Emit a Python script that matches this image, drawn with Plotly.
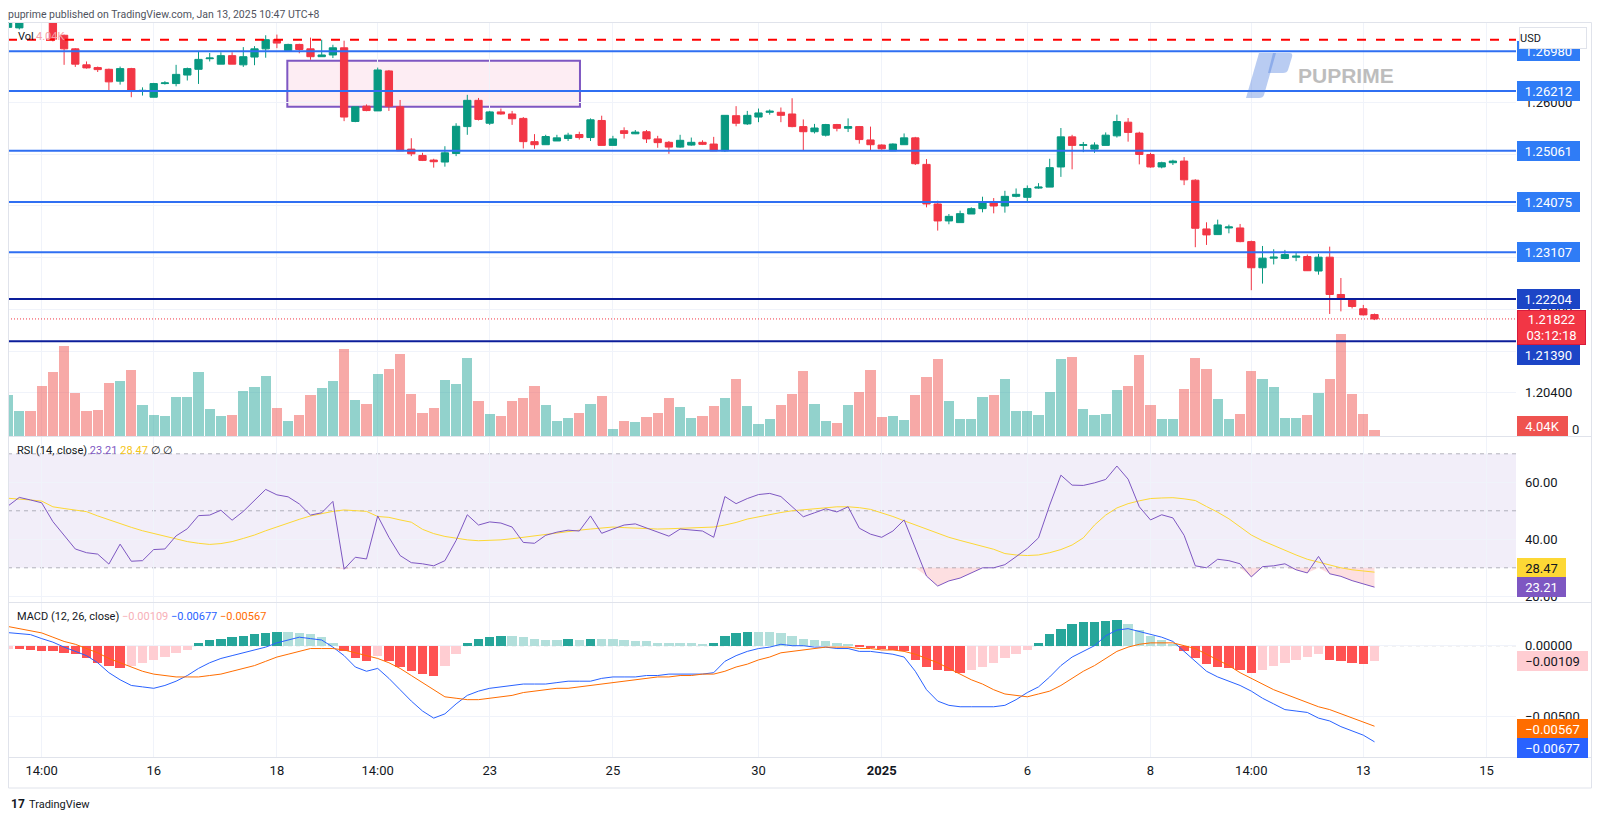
import plotly.graph_objects as go

# ---------------- data ----------------
bar_index = list(range(123))

open_ = [1.2744,1.2743,1.2785,1.2768,1.2760,1.27288,1.27026,1.26718,1.26665,1.26632,
1.26403,1.26645,1.26218,1.26094,1.26357,1.26357,1.26521,1.26632,1.26836,1.26731,
1.26895,1.26718,1.26868,1.27026,1.27203,1.26993,1.27111,1.27026,1.26875,1.26908,
1.27046,1.25627,1.25922,1.25830,1.26600,1.25909,1.25094,1.24972,1.24883,1.24845,
1.25010,1.25528,1.26034,1.25593,1.25811,1.25771,1.25686,1.25238,1.25179,1.25251,
1.25298,1.25376,1.25317,1.25646,1.25166,1.25449,1.25389,1.25429,1.25291,1.25225,
1.25133,1.25172,1.25225,1.25192,1.25061,1.25738,1.25580,1.25712,1.25804,1.25804,
1.25771,1.25528,1.25429,1.25363,1.25567,1.25495,1.25528,1.25271,1.25173,1.25061,
1.25179,1.25311,1.24800,1.24037,1.23710,1.23678,1.23844,1.23947,1.24069,1.23998,
1.24184,1.24165,1.24343,1.24362,1.24750,1.25330,1.25166,1.25094,1.25166,1.25350,
1.25613,1.25403,1.24991,1.24750,1.24832,1.24864,1.24495,1.23556,1.23447,1.23575,
1.23575,1.23312,1.22808,1.22993,1.22986,1.23012,1.23024,1.22745,1.23012,1.22293,
1.22198,1.22018,1.21906]

high = [1.2770,1.2795,1.2798,1.2775,1.2765,1.2730,1.2704,1.26783,1.26685,1.26645,
1.26685,1.2666,1.26284,1.26370,1.26403,1.26718,1.26665,1.26973,1.26947,1.2696,
1.2696,1.27059,1.27078,1.27288,1.27301,1.27124,1.27124,1.27242,1.27203,1.27105,
1.27183,1.25909,1.25955,1.26665,1.26619,1.26041,1.25304,1.25023,1.24908,1.25150,
1.25593,1.26140,1.26080,1.25830,1.25876,1.25830,1.25712,1.25383,1.25370,1.25370,
1.25409,1.25429,1.25686,1.25738,1.25350,1.25514,1.25462,1.25462,1.25350,1.25251,
1.25370,1.25317,1.25264,1.25330,1.25745,1.25922,1.25830,1.25876,1.25857,1.25896,
1.26074,1.25666,1.25580,1.25580,1.25580,1.25686,1.25540,1.25528,1.25186,1.25205,
1.25396,1.25330,1.24902,1.24100,1.23844,1.23908,1.23972,1.24177,1.24151,1.24291,
1.24336,1.24394,1.24438,1.24908,1.25501,1.25370,1.25232,1.25225,1.25416,1.25758,
1.25692,1.25429,1.25023,1.24851,1.24889,1.24940,1.24514,1.23684,1.23735,1.23639,
1.23652,1.23331,1.23228,1.23165,1.23152,1.23107,1.23062,1.23075,1.23215,1.22611,
1.22210,1.22092,1.21925]

low = [1.2738,1.2740,1.2762,1.2756,1.2717,1.26718,1.26678,1.26645,1.26580,1.26219,
1.26337,1.26094,1.26126,1.26094,1.26337,1.26304,1.26416,1.26350,1.26783,1.26731,
1.26731,1.26678,1.26711,1.26855,1.27039,1.26993,1.26941,1.26816,1.26875,1.26849,
1.25633,1.25613,1.25824,1.25830,1.25830,1.25061,1.24959,1.24864,1.24737,1.24756,
1.24959,1.25370,1.25646,1.25561,1.25758,1.25561,1.25107,1.25100,1.25179,1.25251,
1.25251,1.25278,1.25251,1.25166,1.25166,1.25297,1.25383,1.25212,1.25120,1.25004,
1.25120,1.25159,1.25172,1.25061,1.25041,1.25534,1.25560,1.25613,1.25758,1.25613,
1.25515,1.25068,1.25396,1.25337,1.25436,1.25423,1.25199,1.25068,1.25081,1.25061,
1.25179,1.24788,1.23972,1.23524,1.23646,1.23678,1.23844,1.23876,1.23857,1.23870,
1.24165,1.24081,1.24330,1.24362,1.24559,1.24705,1.25036,1.25023,1.25166,1.25317,
1.25238,1.24800,1.24737,1.24724,1.24788,1.24400,1.23204,1.23248,1.23440,1.23472,
1.23299,1.22376,1.22503,1.22872,1.22973,1.22935,1.22745,1.22675,1.21918,1.21968,
1.22024,1.21887,1.21800]

close = [1.2760,1.2785,1.2768,1.2758,1.2721,1.27026,1.26731,1.26659,1.26626,1.26390,
1.26645,1.26226,1.26225,1.26357,1.26370,1.26534,1.26645,1.26823,1.26849,1.26895,
1.26731,1.26875,1.27026,1.27203,1.27137,1.27111,1.27013,1.26875,1.26908,1.27046,
1.25712,1.25909,1.25837,1.26619,1.25922,1.25061,1.25004,1.24877,1.24851,1.25023,
1.25534,1.26034,1.25666,1.25811,1.25771,1.25679,1.25238,1.25179,1.25337,1.25311,
1.25363,1.25317,1.25659,1.25166,1.25291,1.25396,1.25422,1.25291,1.25219,1.25133,
1.25264,1.25225,1.25186,1.25061,1.25745,1.25593,1.25745,1.25791,1.25824,1.25745,
1.25528,1.25429,1.25501,1.25567,1.25495,1.25528,1.25278,1.25179,1.25100,1.25192,
1.25311,1.24813,1.24037,1.23710,1.23799,1.23851,1.23947,1.24069,1.23998,1.24184,
1.24223,1.24336,1.24362,1.24737,1.25330,1.25166,1.25179,1.25173,1.25363,1.25626,
1.25416,1.24991,1.24750,1.24832,1.24864,1.24502,1.23569,1.23441,1.23633,1.23594,
1.23312,1.22808,1.22993,1.23012,1.23062,1.23031,1.22751,1.23012,1.22293,1.22204,
1.22061,1.21900,1.21822]

volume_k = [26.2,16.0,16.0,31.7,40.6,57.4,27.7,16.0,16.6,33.8,
34.9,41.9,19.8,13.2,12.6,24.9,24.9,41.1,17.2,12.6,
13.6,28.7,31.1,38.3,17.7,9.8,13.2,26.2,30.4,34.9,
55.5,23.2,20.4,39.4,42.8,52.3,26.6,14.9,17.7,36.0,
33.2,49.8,22.3,14.3,12.8,22.3,24.3,32.1,19.8,9.6,
11.5,14.9,20.4,25.5,4.5,9.6,8.9,12.1,14.9,24.3,
18.3,11.7,12.8,18.9,24.3,36.6,19.4,7.9,11.1,19.8,
27.0,41.5,20.4,9.4,8.3,19.8,28.3,42.1,12.1,12.8,
10.0,26.2,37.7,49.4,22.3,11.1,11.1,24.9,26.2,36.6,
16.0,16.0,13.2,28.3,48.9,50.4,17.2,13.2,13.8,29.4,
31.7,51.7,19.8,11.1,11.1,30.0,49.8,42.8,23.8,11.1,
14.3,41.5,36.6,31.5,11.5,11.5,13.2,27.2,36.6,64.9,
26.6,14.3,4.04]

rsi = [51.7,54.7,53.8,52.8,46.2,41.5,36.6,35.3,34.8,31.3,
38.3,32.3,32.5,36.4,36.6,41.2,43.7,48.3,48.5,50.2,
46.7,49.8,53.6,57.5,55.6,54.9,52.4,48.5,49.3,53.3,
29.5,33.7,33.1,48.2,40.7,34.3,31.8,31.4,30.7,32.5,
39.6,48.6,45.0,46.1,45.7,44.3,38.9,38.6,41.4,42.5,
43.2,42.9,48.2,42.1,43.6,45.0,45.4,43.9,42.5,41.1,
43.6,43.2,42.9,40.7,55.0,52.5,54.3,55.7,56.1,55.0,
51.4,47.9,49.3,50.7,49.6,51.4,43.9,41.8,40.7,42.9,
46.8,36.8,27.1,23.6,25.4,26.4,28.2,30.0,30.0,31.1,
33.9,36.8,40.5,52.0,62.5,59.0,58.9,59.8,61.0,65.7,
61.1,51.4,46.8,48.6,47.5,41.4,30.7,30.0,33.0,32.5,
31.4,26.8,30.4,30.7,31.4,29.3,28.2,34.0,27.9,27.0,
25.5,24.4,23.21]

rsi_ma = [54.4,54.2,53.8,53.4,51.4,50.8,50.2,49.7,48.2,46.8,
45.6,44.2,43.0,42.1,41.1,40.1,39.2,38.6,38.2,38.5,
39.2,40.3,41.5,43.0,44.4,45.7,47.0,48.2,49.0,49.8,
50.3,50.1,49.8,48.0,47.7,46.8,46.0,43.5,42.0,41.0,
40.4,39.8,39.5,39.6,39.8,40.2,40.7,41.3,41.9,42.4,
42.8,43.2,43.6,44.0,44.3,44.1,43.9,43.7,43.6,43.7,
43.8,43.9,44.0,44.3,45.0,45.9,47.1,47.9,48.7,49.4,
50.0,50.4,50.8,51.1,51.4,51.4,51.1,50.5,49.3,48.0,
46.5,45.0,43.5,42.0,40.7,39.6,38.5,37.5,36.5,35.0,
34.5,34.3,34.5,35.3,36.4,38.0,40.5,45.0,48.5,51.0,
52.5,53.5,54.3,54.5,54.6,54.2,53.6,51.5,49.5,47.2,
44.5,41.5,39.5,37.8,36.0,34.5,33.0,32.0,31.0,30.0,
29.3,28.8,28.47]

macd = [0.00092,0.00085,0.00078,0.00050,0.00025,-0.0001,-0.0004,-0.0007,-0.0012,-0.0019,
-0.0024,-0.0028,-0.0029,-0.0030,-0.0028,-0.0025,-0.0021,-0.0016,-0.0012,-0.0009,
-0.0007,-0.0005,-0.0003,-0.0001,0.0002,0.0004,0.0006,0.0005,0.0004,-0.0001,
-0.0007,-0.0015,-0.0018,-0.0016,-0.0023,-0.0031,-0.0039,-0.0046,-0.0051,-0.0048,
-0.0041,-0.0035,-0.0032,-0.0030,-0.0029,-0.0028,-0.0027,-0.0027,-0.0027,-0.0026,
-0.0025,-0.0025,-0.0025,-0.0023,-0.0022,-0.0022,-0.0022,-0.0021,-0.0021,-0.0020,
-0.0020,-0.0020,-0.0020,-0.0019,-0.0011,-0.0007,-0.0004,-0.0002,-0.0001,0.0001,
0.0000,0.0000,-0.0001,-0.0001,-0.0002,-0.0002,-0.0004,-0.0004,-0.0005,-0.0006,
-0.0008,-0.0018,-0.0031,-0.0039,-0.0042,-0.0043,-0.0043,-0.0043,-0.0043,-0.0042,
-0.0038,-0.0033,-0.0029,-0.0022,-0.0014,-0.0008,-0.0004,0.0000,0.0007,0.0011,
0.0012,0.0010,0.0008,0.0006,0.0003,-0.0004,-0.0011,-0.0018,-0.0022,-0.0025,
-0.0028,-0.0032,-0.0037,-0.0041,-0.0045,-0.0046,-0.0047,-0.0051,-0.0053,-0.0057,
-0.0060,-0.0063,-0.00677]

signal = [0.00135,0.0012,0.0010,0.0009,0.0006,0.0003,0.0001,-0.0002,-0.0005,-0.0009,
-0.0012,-0.0015,-0.0018,-0.0020,-0.0021,-0.0022,-0.0022,-0.0022,-0.0021,-0.0020,
-0.0018,-0.0016,-0.0014,-0.0011,-0.0008,-0.0006,-0.0004,-0.0002,-0.0002,-0.0002,
-0.0003,-0.0005,-0.0007,-0.0009,-0.0012,-0.0016,-0.0021,-0.0026,-0.0031,-0.0036,
-0.0037,-0.0038,-0.0038,-0.0037,-0.0036,-0.0035,-0.0033,-0.0032,-0.0031,-0.0030,
-0.0030,-0.0029,-0.0028,-0.0027,-0.0026,-0.0025,-0.0024,-0.0023,-0.0022,-0.0022,
-0.0021,-0.0021,-0.0020,-0.0020,-0.0018,-0.0015,-0.0013,-0.0010,-0.0008,-0.0005,
-0.0004,-0.0003,-0.0002,-0.0001,-0.0001,-0.0001,-0.0002,-0.0002,-0.0003,-0.0003,
-0.0004,-0.0006,-0.0009,-0.0012,-0.0016,-0.0020,-0.0024,-0.0027,-0.0031,-0.0034,
-0.0035,-0.0036,-0.0034,-0.0032,-0.0028,-0.0023,-0.0018,-0.0014,-0.0009,-0.0004,
-0.0001,0.0001,0.0002,0.0002,0.0002,0.0000,-0.0002,-0.0006,-0.0010,-0.0014,
-0.0019,-0.0023,-0.0027,-0.0031,-0.0034,-0.0037,-0.0040,-0.0043,-0.0045,-0.0048,
-0.0051,-0.0054,-0.00567]

hist = [-0.0002,-0.00025,-0.0003,-0.00035,-0.0004,-0.0005,-0.0006,-0.0009,-0.0012,-0.0014,
-0.0016,-0.0014,-0.0012,-0.0010,-0.0008,-0.0005,-0.0003,0.0002,0.0004,0.0005,
0.0006,0.0007,0.0008,0.0009,0.0010,0.0010,0.0009,0.0008,0.0006,0.0002,
-0.0004,-0.0009,-0.0011,-0.0007,-0.0011,-0.0015,-0.0018,-0.0020,-0.0021,-0.0014,
-0.0006,0.0002,0.0005,0.0006,0.0007,0.0007,0.0006,0.0005,0.0004,0.0004,
0.0005,0.0004,0.0005,0.0005,0.0005,0.0004,0.0003,0.0003,0.0002,0.0002,
0.0002,0.0002,0.0001,0.0002,0.0007,0.0009,0.0010,0.0010,0.0010,0.0009,
0.0007,0.0005,0.0004,0.0003,0.0002,0.0001,-0.0001,-0.00015,-0.0002,-0.0003,
-0.0004,-0.0010,-0.0015,-0.0017,-0.0018,-0.0019,-0.0017,-0.0015,-0.0012,-0.0009,
-0.0006,-0.0003,0.0002,0.0008,0.0012,0.0015,0.00165,0.0017,0.00175,0.0018,
0.0015,0.0011,0.0007,0.0004,0.0001,-0.0004,-0.0009,-0.0013,-0.0015,-0.0016,
-0.0017,-0.0019,-0.0017,-0.0014,-0.0012,-0.0010,-0.0008,-0.0006,-0.0010,-0.0011,
-0.0012,-0.0013,-0.00109]

tick_index = [3, 13, 24, 33, 43, 54, 67, 78, 91, 102, 111, 121, 132]
tick_text = ["14:00", "16", "18", "14:00", "23", "25", "30", "<b>2025</b>",
             "6", "8", "14:00", "13", "15"]

price_ticks = [1.204, 1.212, 1.22, 1.23, 1.24, 1.25, 1.26]
price_tick_text = ["1.20400", "", "1.22000", "", "", "", "1.26000"]
rsi_ticks = [20, 40, 60]
macd_ticks = [0.0, -0.005]

level_blue = [1.26980, 1.26212, 1.25061, 1.24075, 1.23107]
level_navy = [1.22204, 1.21390]
level_red_dash = 1.27200
last_price = 1.21822
countdown = "03:12:18"
zone_start, zone_end = 24.93, 51.06
zone_low, zone_high = 1.25911, 1.26797

# ---------------- layout geometry (screen pixels) ----------------
# the page body has an 8px margin, so the figure itself is drawn 8px smaller
OFF = 8
W, H = 1600 - OFF, 819 - OFF
PL, PR, PT, PB = 8, 1516, 22, 757          # plot area on screen
PRICE_BOT, RSI_TOP, RSI_BOT = 436, 437, 603
FONT = "Roboto, Arial, sans-serif"
GRID = "#f0f3fa"
TXT = "#131722"


def px(x):
    return (x - PL) / (PR - PL)


def py(y):
    return (PB - y) / (PB - PT)


BAR0, BARW = 8.1, 11.2
x_lo = (PL - BAR0) / BARW
x_hi = (PR - BAR0) / BARW

fig = go.Figure()

# volume (base axis, drawn below candles)
vol_colors = ["rgba(38,166,154,0.5)" if c >= o else "rgba(239,83,80,0.5)" for o, c in zip(open_, close)]
fig.add_trace(go.Bar(x=bar_index, y=volume_k, width=0.9, marker=dict(color=vol_colors, line=dict(width=0)),
                     xaxis="x", yaxis="y", hoverinfo="skip"))

# candles
fig.add_trace(go.Candlestick(x=bar_index, open=open_, high=high, low=low, close=close,
                             xaxis="x", yaxis="y5", whiskerwidth=0,
                             increasing=dict(line=dict(color="#089981", width=1), fillcolor="#089981"),
                             decreasing=dict(line=dict(color="#f23645", width=1), fillcolor="#f23645"),
                             hoverinfo="skip"))

# RSI oversold fill
fig.add_trace(go.Scatter(x=bar_index, y=[30] * len(bar_index), mode="lines", line=dict(width=0),
                         xaxis="x2", yaxis="y2", hoverinfo="skip"))
fig.add_trace(go.Scatter(x=bar_index, y=[min(v, 30) for v in rsi], mode="lines", line=dict(width=0),
                         fill="tonexty", fillcolor="rgba(242,54,69,0.16)", xaxis="x2", yaxis="y2", hoverinfo="skip"))
fig.add_trace(go.Scatter(x=bar_index, y=rsi_ma, mode="lines", line=dict(color="#fdd835", width=1),
                         xaxis="x2", yaxis="y2", hoverinfo="skip"))
fig.add_trace(go.Scatter(x=bar_index, y=rsi, mode="lines", line=dict(color="#7e57c2", width=1),
                         xaxis="x2", yaxis="y2", hoverinfo="skip"))

# MACD
hist_colors = []
for k, h in enumerate(hist):
    prev = hist[k - 1] if k > 0 else h
    if h >= 0:
        hist_colors.append("#26a69a" if h > prev else "#b2dfdb")
    else:
        hist_colors.append("#ff5252" if h < prev else "#ffcdd2")
fig.add_trace(go.Bar(x=bar_index, y=hist, width=0.85, marker=dict(color=hist_colors, line=dict(width=0)),
                     xaxis="x3", yaxis="y3", hoverinfo="skip"))
fig.add_trace(go.Scatter(x=bar_index, y=macd, mode="lines", line=dict(color="#2962ff", width=1),
                         xaxis="x3", yaxis="y3", hoverinfo="skip"))
fig.add_trace(go.Scatter(x=bar_index, y=signal, mode="lines", line=dict(color="#ff6d00", width=1),
                         xaxis="x3", yaxis="y3", hoverinfo="skip"))

xcommon = dict(range=[x_lo, x_hi], tickvals=tick_index, showgrid=True, gridcolor=GRID, gridwidth=1,
               zeroline=False, showline=False, ticks="", fixedrange=True, domain=[0, 1])
tickfont = dict(family=FONT, size=13, color=TXT)

fig.update_layout(
    width=W, height=H,
    margin=dict(l=PL - OFF, r=1600 - PR, t=PT - OFF, b=819 - PB, pad=0),
    paper_bgcolor="white", plot_bgcolor="white",
    showlegend=False, hovermode=False,
    boxgap=0.35, boxgroupgap=0.0,
    bargap=0,
    xaxis=dict(**xcommon, anchor="y", showticklabels=False, rangeslider=dict(visible=False)),
    xaxis2=dict(**xcommon, anchor="y2", showticklabels=False),
    xaxis3=dict(**xcommon, anchor="y3", showticklabels=True, ticktext=tick_text, tickfont=tickfont,
                ticklabelstandoff=4),
    yaxis=dict(domain=[py(PRICE_BOT), 1], range=[0, 264.2], visible=False, anchor="x", fixedrange=True),
    yaxis5=dict(overlaying="y", side="right", anchor="x",
                range=[(6641.5 - PRICE_BOT) / 5190, (6641.5 - PT) / 5190],
                tickvals=price_ticks, ticktext=price_tick_text,
                showgrid=True, gridcolor=GRID, zeroline=False, ticks="", tickfont=tickfont,
                ticklabelstandoff=8, fixedrange=True),
    yaxis2=dict(domain=[py(RSI_BOT), py(RSI_TOP)], anchor="x2", side="right", range=[17.65, 75.89],
                tickvals=rsi_ticks, ticktext=[f"{v:.2f}" for v in rsi_ticks],
                showgrid=True, gridcolor=GRID, zeroline=False, ticks="", tickfont=tickfont,
                ticklabelstandoff=8, fixedrange=True),
    yaxis3=dict(domain=[0, py(RSI_BOT)], anchor="x3", side="right", range=[-0.007838, 0.003007],
                tickvals=macd_ticks, ticktext=["0.00000", "\u22120.00500"],
                showgrid=True, gridcolor=GRID, zeroline=False, ticks="", tickfont=tickfont,
                ticklabelstandoff=8, fixedrange=True),
)

shapes = []
# RSI band and guide lines
shapes.append(dict(type="rect", xref="paper", x0=0, x1=1, yref="y2", y0=30, y1=70,
                   fillcolor="rgba(126,87,194,0.1)", line=dict(width=0), layer="between"))
for lv in (70, 50, 30):
    shapes.append(dict(type="line", xref="paper", x0=0, x1=1, yref="y2", y0=lv, y1=lv,
                       line=dict(color="rgba(120,123,134,0.55)", width=1, dash="4px,4px"), layer="between"))
# MACD zero line
shapes.append(dict(type="line", xref="paper", x0=0, x1=1, yref="y3", y0=0, y1=0,
                   line=dict(color="rgba(120,123,134,0.5)", width=1, dash="4px,4px"), layer="between"))
# zone rectangle
shapes.append(dict(type="rect", xref="x", x0=zone_start, x1=zone_end, yref="y5", y0=zone_low, y1=zone_high,
                   fillcolor="rgba(233,30,99,0.08)", line=dict(color="#7e57c2", width=2), layer="below"))
# price levels
shapes.append(dict(type="line", xref="paper", x0=0, x1=1, yref="y5", y0=level_red_dash, y1=level_red_dash,
                   line=dict(color="#ff0000", width=2, dash="9px,10px")))
for lv in level_blue:
    shapes.append(dict(type="line", xref="paper", x0=0, x1=1, yref="y5", y0=lv, y1=lv,
                       line=dict(color="#2f6ff2", width=2)))
for lv in level_navy:
    shapes.append(dict(type="line", xref="paper", x0=0, x1=1, yref="y5", y0=lv, y1=lv,
                       line=dict(color="#0c1e9a", width=2)))
shapes.append(dict(type="line", xref="paper", x0=0, x1=1, yref="y5", y0=last_price, y1=last_price,
                   line=dict(color="#f23645", width=1, dash="1px,2px")))

# frame and pane separators
FR = 1591.5
shapes.append(dict(type="rect", xref="paper", yref="paper", x0=px(8.5), x1=px(FR), y0=py(788), y1=py(22.5),
                   line=dict(color="#e0e3eb", width=1), fillcolor="rgba(0,0,0,0)"))
for ysep in (436.5, 602.5, 757.5):
    shapes.append(dict(type="line", xref="paper", yref="paper", x0=px(8.5), x1=px(FR), y0=py(ysep), y1=py(ysep),
                       line=dict(color="#e0e3eb", width=1)))


# PUPRIME logo mark
def P(x, y):
    return f"{px(x):.5f},{py(y):.5f}"


leg = f"M {P(1259,53)} L {P(1276,53)} L {P(1264,95)} Q {P(1263,98)} {P(1259,98)} L {P(1246,98)} Z"
bowl = f"M {P(1273,53)} L {P(1290,53)} Q {P(1293,53)} {P(1292,57)} L {P(1288,70)} Q {P(1287,73)} {P(1283,73)} L {P(1268,73)} Z"
for pth in (leg, bowl):
    shapes.append(dict(type="path", xref="paper", yref="paper", path=pth,
                       fillcolor="rgba(70,120,220,0.38)", line=dict(width=0)))

fig.update_layout(shapes=shapes)

ann = []


def label(text, left, width, y, yref, bg, fg="white", yshift=0, height=20, size=13, border=None):
    ann.append(dict(text=text, xref="paper", x=px(left), xanchor="left", yref=yref, y=y, yanchor="middle",
                    yshift=yshift, showarrow=False, bgcolor=bg, bordercolor=border or bg, borderwidth=1,
                    borderpad=0, width=width - 2, height=height - 2, align="center",
                    font=dict(family=FONT, size=size, color=fg)))


# price-scale labels
LB = "#2f7cf6"
label(f"{level_blue[0]:.5f}", 1517, 63, level_blue[0], "y5", LB)
ann.append(dict(text="USD", xref="paper", x=px(1519), xanchor="left", yref="paper", y=py(38), yanchor="middle",
                showarrow=False, bgcolor="white", bordercolor="#e0e3eb", borderwidth=1, borderpad=0,
                width=66, height=20, align="left", font=dict(family=FONT, size=11, color=TXT)))
for lv in level_blue[1:]:
    label(f"{lv:.5f}", 1517, 63, lv, "y5", LB)
label(f"{level_navy[0]:.5f}", 1517, 63, level_navy[0], "y5", "#1c45c6")
label(f"{level_navy[1]:.5f}", 1517, 63, level_navy[1], "y5", "#1c45c6", yshift=-14)
label(f"{last_price:.5f}<br>{countdown}", 1517, 69, last_price, "y5", "#f23645", yshift=-8.5, height=35,
      border="#d81b3c")
ann.append(dict(text="0", xref="paper", x=px(1570), xanchor="left", yref="paper", y=py(429), yanchor="middle",
                showarrow=False, font=dict(family=FONT, size=13, color=TXT)))
label(f"{volume_k[-1]:.2f}K", 1517, 51, volume_k[-1], "y", "#ef5350", yshift=3.5)

# RSI labels
label(f"{rsi_ma[-1]:.2f}", 1517, 49, rsi_ma[-1], "y2", "#fdd835", fg=TXT, yshift=4.2)
label(f"{rsi[-1]:.2f}", 1517, 49, rsi[-1], "y2", "#7e57c2")

# MACD labels
label(f"\u2212{abs(hist[-1]):.5f}", 1517, 71, hist[-1], "y3", "#ffcdd2", fg=TXT)
label(f"\u2212{abs(signal[-1]):.5f}", 1517, 71, signal[-1], "y3", "#ff6d00", yshift=-2.6)
label(f"\u2212{abs(macd[-1]):.5f}", 1517, 71, macd[-1], "y3", "#2962ff", yshift=-6)


def text(t, x, y, size=11, color=TXT, anchor="left"):
    ann.append(dict(text=t, xref="paper", x=px(x), xanchor=anchor, yref="paper", y=py(y), yanchor="middle",
                    showarrow=False, font=dict(family=FONT, size=size, color=color)))


text("puprime published on TradingView.com, Jan 13, 2025 10:47 UTC+8", 6, 14.5, size=10.5, color="#50535e")
text("Vol", 16, 36, size=11)
text(f"{volume_k[-1]:.2f}K", 34, 36, size=11, color="#f5a0a6")
text("RSI (14, close) <span style='color:#7e57c2'>" + f"{rsi[-1]:.2f}" + "</span> "
     "<span style='color:#f5c518'>" + f"{rsi_ma[-1]:.2f}" + "</span> \u2205 \u2205", 15, 450)
text("MACD (12, 26, close) <span style='color:#f7b0b8'>\u2212" + f"{abs(hist[-1]):.5f}" + "</span> "
     "<span style='color:#2962ff'>\u2212" + f"{abs(macd[-1]):.5f}" + "</span> "
     "<span style='color:#ff6d00'>\u2212" + f"{abs(signal[-1]):.5f}" + "</span>", 15, 616)
ann.append(dict(text="<b>PUPRIME</b>", xref="paper", x=px(1296), xanchor="left", yref="paper", y=py(75),
                yanchor="middle", showarrow=False,
                font=dict(family="Liberation Sans, Arial, sans-serif", size=21, color="#bdbdbd")))
text("<b>17</b>", 9, 804, size=12, color=TXT)
text("TradingView", 27, 804, size=11, color=TXT)

fig.update_layout(annotations=ann)

fig.write_html("out.html")
